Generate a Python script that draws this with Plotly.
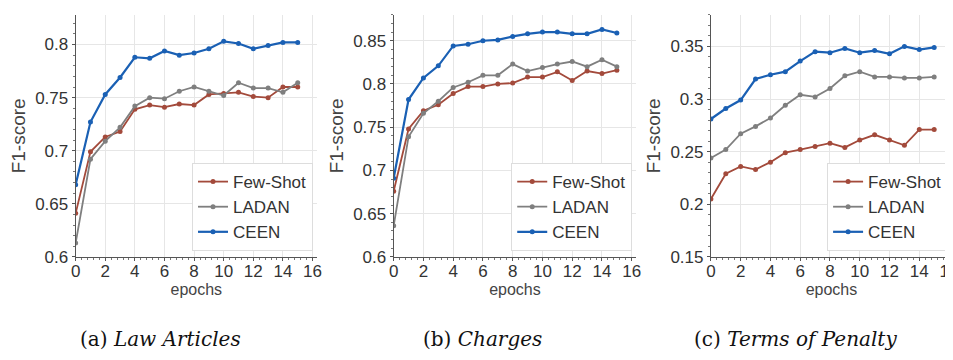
import plotly.graph_objects as go

epochs = list(range(16))

law_few = [0.641, 0.699, 0.713, 0.718, 0.739, 0.743, 0.741, 0.744, 0.743, 0.753, 0.754, 0.755, 0.751, 0.750, 0.760, 0.760]
law_ladan = [0.613, 0.692, 0.709, 0.722, 0.742, 0.750, 0.749, 0.756, 0.760, 0.756, 0.752, 0.764, 0.759, 0.759, 0.755, 0.764]
law_ceen = [0.668, 0.727, 0.753, 0.769, 0.788, 0.787, 0.794, 0.790, 0.792, 0.796, 0.803, 0.801, 0.796, 0.799, 0.802, 0.802]

chg_few = [0.676, 0.748, 0.769, 0.776, 0.789, 0.797, 0.797, 0.800, 0.801, 0.808, 0.808, 0.814, 0.804, 0.815, 0.812, 0.816]
chg_ladan = [0.636, 0.739, 0.766, 0.780, 0.796, 0.802, 0.810, 0.810, 0.823, 0.815, 0.819, 0.823, 0.826, 0.820, 0.828, 0.820]
chg_ceen = [0.691, 0.782, 0.807, 0.821, 0.844, 0.846, 0.850, 0.851, 0.855, 0.858, 0.860, 0.860, 0.858, 0.858, 0.863, 0.859]

pen_few = [0.205, 0.229, 0.236, 0.233, 0.240, 0.249, 0.252, 0.255, 0.258, 0.254, 0.261, 0.266, 0.261, 0.256, 0.271, 0.271]
pen_ladan = [0.244, 0.252, 0.267, 0.274, 0.282, 0.294, 0.304, 0.302, 0.310, 0.322, 0.326, 0.321, 0.321, 0.320, 0.320, 0.321]
pen_ceen = [0.281, 0.291, 0.299, 0.319, 0.323, 0.326, 0.336, 0.345, 0.344, 0.348, 0.344, 0.346, 0.343, 0.350, 0.347, 0.349]

series_names = ["Few-Shot", "LADAN", "CEEN"]
colors = ["#a34a3b", "#7f7f7f", "#1a60b4"]
captions = ["(a) <i>Law Articles</i>", "(b) <i>Charges</i>", "(c) <i>Terms of Penalty</i>"]
caption_x = [149, 474, 791]

panels = [
    dict(data=[law_few, law_ladan, law_ceen], yrange=[0.6, 0.828], ytick=[0.6, 0.65, 0.7, 0.75, 0.8],
         ylabels=["0.6", "0.65", "0.7", "0.75", "0.8"], xpx=[63.3, 307.2], xr=[0, 16.3]),
    dict(data=[chg_few, chg_ladan, chg_ceen], yrange=[0.6, 0.88], ytick=[0.6, 0.65, 0.7, 0.75, 0.8, 0.85],
         ylabels=["0.6", "0.65", "0.7", "0.75", "0.8", "0.85"], xpx=[384.7, 629.8], xr=[0, 16.3]),
    dict(data=[pen_few, pen_ladan, pen_ceen], yrange=[0.15, 0.38], ytick=[0.15, 0.2, 0.25, 0.3, 0.35],
         ylabels=["0.15", "0.2", "0.25", "0.3", "0.35"], xpx=[705.3, 949.0], xr=[0, 16.2]),
]

W, H = 953, 360
ytop, ybot = 7.0, 256.0
font = "Liberation Sans"

fig = go.Figure()
layout = dict(width=W, height=H, margin=dict(l=0, r=0, t=0, b=0),
              paper_bgcolor="white", plot_bgcolor="white", showlegend=True)

for i, p in enumerate(panels):
    n = "" if i == 0 else str(i + 1)
    legname = "legend" if i == 0 else "legend" + str(i + 1)
    for j, name in enumerate(series_names):
        fig.add_trace(go.Scatter(
            x=epochs, y=p["data"][j], name=name, mode="lines+markers",
            line=dict(color=colors[j], width=2.2 if j == 2 else 1.8),
            marker=dict(color=colors[j], size=5),
            xaxis="x" + n, yaxis="y" + n, legend=legname))
    xd = [p["xpx"][0] / W, p["xpx"][1] / W]
    yd = [1 - ybot / H, 1 - ytop / H]
    layout["xaxis" + n] = dict(
        domain=xd, range=p["xr"], anchor="y" + n, tickvals=list(range(0, 17, 2)),
        showgrid=True, gridcolor="#e6e6e6", gridwidth=1, zeroline=False,
        showline=True, linecolor="#555555", linewidth=1,
        ticks="outside", ticklen=3, tickcolor="#555555",
        minor=dict(ticks="outside", dtick=0.4, ticklen=2, tickcolor="#777777", showgrid=False),
        tickfont=dict(family=font, size=17, color="#333333"),
        ticklabelstandoff=-4,
        title=dict(text="epochs", font=dict(family=font, size=16, color="#444444"), standoff=0),
    )
    layout["yaxis" + n] = dict(
        domain=yd, range=p["yrange"], anchor="x" + n, tickvals=p["ytick"], ticktext=p["ylabels"],
        showgrid=True, gridcolor="#e6e6e6", gridwidth=1, zeroline=False,
        showline=True, linecolor="#555555", linewidth=1,
        ticks="outside", ticklen=3, tickcolor="#555555",
        minor=dict(ticks="outside", dtick=0.01, ticklen=2, tickcolor="#777777", showgrid=False),
        tickfont=dict(family=font, size=17, color="#333333"),
        title=dict(text="F1-score", font=dict(family=font, size=19, color="#444444"), standoff=4),
    )
    layout[legname] = dict(
        x=(p["xpx"][1] - 4) / W, xanchor="right", y=1 - 250 / H, yanchor="bottom",
        xref="paper", yref="paper",
        bgcolor="white", bordercolor="#dddddd", borderwidth=1,
        font=dict(family=font, size=17, color="#333333"),
        itemwidth=30, tracegroupgap=0,
    )
    layout.setdefault("annotations", []).append(dict(
        text=captions[i], x=caption_x[i] / W, y=1 - 340 / H,
        xref="paper", yref="paper", showarrow=False, xanchor="center", yanchor="middle",
        font=dict(family="DejaVu Serif", size=20, color="#111111")))

fig.update_layout(**layout)
fig.write_html("out.html")
